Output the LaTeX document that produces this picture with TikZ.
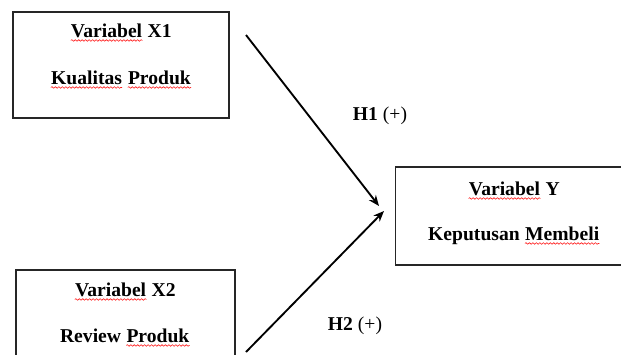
\documentclass[tikz,border=0pt]{standalone}
\usepackage{fontspec}
\setmainfont{Liberation Serif}
\usetikzlibrary{decorations.pathmorphing, arrows.meta}
\newcommand{\spell}[1]{\tikz[baseline=(sw.base)]{\node[inner sep=0pt] (sw) {#1}; \draw[red!90!white, line width=0.45pt, decorate, decoration={snake, amplitude=0.6pt, segment length=2.6pt}] ([yshift=-2.6pt]sw.base west) -- ([yshift=-2.6pt]sw.base east);}}

\begin{document}
\begin{tikzpicture}[x=0.75pt, y=-0.75pt, >={Stealth[length=8pt, width=6.5pt]},
  box/.style={draw=black!85, line width=0.8pt, inner sep=0pt},
  lbl/.style={anchor=base, inner sep=0pt, font=\bfseries\fontsize{14.7}{17}\selectfont}]
  \useasboundingbox (0,0) rectangle (621,354);
  \clip (0,0) rectangle (621,354);
  \node[box, minimum width=162pt, minimum height=79.5pt] (x1) at (121,65) {};
  \node[box, minimum width=164.25pt, minimum height=77.25pt] (x2) at (125.5,321.5) {};
  \node[box, minimum width=190pt, minimum height=73.5pt] (y) at (522,216) {};
  \node[lbl] (x1a) at (121,37) {\spell{Variabel} X1};
  \node[lbl] (x1b) at (121,84) {\spell{Kualitas} \spell{Produk}};
  \node[lbl] (x2a) at (125,296) {\spell{Variabel} X2};
  \node[lbl] (x2b) at (125,342) {Review \spell{Produk}};
  \node[lbl] (ya) at (514,195) {\spell{Variabel} Y};
  \node[lbl] (yb) at (514,240) {Keputusan \spell{Membeli}};
  \coordinate (s1) at (246,35);
  \coordinate (t1) at (379,206);
  \coordinate (s2) at (246,352);
  \coordinate (t2) at (384,211);
  \draw[->, line width=1.4pt] (s1) -- (t1);
  \draw[->, line width=1.4pt] (s2) -- (t2);
  \node[lbl] (h1) at (380,120) {H1 \textmd{(+)}};
  \node[lbl] (h2) at (355,330) {H2 \textmd{(+)}};
\end{tikzpicture}
\end{document}
